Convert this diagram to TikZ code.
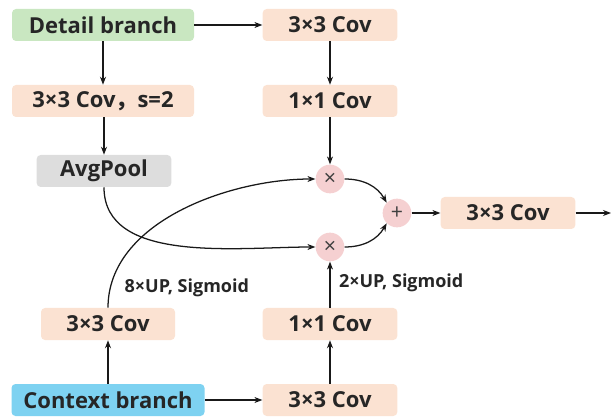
\documentclass[tikz,border=0pt]{standalone}
\usepackage{fontspec}
\setmainfont{Open Sans}
\newfontfamily\cjkfont{Noto Sans CJK SC}
\usetikzlibrary{arrows.meta}
\definecolor{detailgreen}{HTML}{C9E7C1}
\definecolor{convpeach}{HTML}{FBE2D2}
\definecolor{poolgray}{HTML}{DDDDDD}
\definecolor{ctxblue}{HTML}{7ED2F1}
\definecolor{oppink}{HTML}{F5D0D1}
\tikzset{
  blk/.style={rounded corners=3pt, inner sep=0pt, minimum height=24pt,
    font=\fontsize{16.5}{18}\selectfont\bfseries, text=black!85},
  conv/.style={blk, fill=convpeach, minimum width=101pt},
  op/.style={circle, fill=oppink, minimum size=21.5pt, inner sep=0pt,
    font=\fontsize{16}{16}\selectfont, text=black!75},
  arr/.style={-{Stealth[length=6pt,width=4.5pt]}, line width=0.95pt, black!90},
  lbl/.style={font=\fontsize{13.5}{15}\selectfont\bfseries, text=black!85, anchor=west}
}
\begin{document}
\begin{tikzpicture}[x=0.75pt, y=-0.75pt]
  \useasboundingbox (0,0) rectangle (611,417);
  % detail path
  \node[blk, fill=detailgreen, minimum width=136.5pt] (detail) at (103,25) {Detail branch};
  \node[conv] (dconvA) at (330,25) {3×3 Cov};
  \node[conv] (dconvB) at (330,101) {1×1 Cov};
  \node[conv, minimum width=136.5pt] (down) at (103,101) {3×3 Cov{\cjkfont\bfseries ，}s=2};
  \node[blk, fill=poolgray, minimum width=101pt] (pool) at (104,171) {AvgPool};
  % fusion
  \node[op] (mulA) at (330,179) {×};
  \node[op] (mulB) at (330,247) {×};
  \node[op] (add) at (397,213) {+};
  \node[conv] (out) at (508,213) {3×3 Cov};
  \coordinate (end) at (611,213);
  % context path
  \node[conv, minimum width=100.5pt] (cconvL) at (108,324) {3×3 Cov};
  \node[conv] (cconvB) at (330,324) {1×1 Cov};
  \node[blk, fill=ctxblue, minimum width=144.75pt] (context) at (108,400) {Context branch};
  \node[conv] (cconvA) at (330,400) {3×3 Cov};
  % connectors
  \draw[arr] (detail) -- (dconvA);
  \draw[arr] (detail) -- (down);
  \draw[arr] (down.south -| pool) -- (pool);
  \draw[arr] (dconvA) -- (dconvB);
  \draw[arr] (dconvB) -- (mulA);
  \draw[arr] (mulA.east) to[out=0, in=120] (add.north west);
  \draw[arr] (mulB.east) to[out=0, in=-120] (add.south west);
  \draw[arr] (add) -- (out);
  \draw[arr] (out) -- (end);
  \draw[arr] (context) -- (cconvA);
  \draw[arr] (context) -- (cconvL);
  \draw[arr] (cconvA) -- (cconvB);
  \draw[arr] (cconvB) -- node[lbl, pos=0.55, xshift=3pt] {2×UP, Sigmoid} (mulB);
  \draw[arr] (cconvL.north) to[out=90, in=180, looseness=0.9] node[lbl, pos=0.08, xshift=7pt] {8×UP, Sigmoid} (mulA.west);
  \draw[arr] (pool.south) to[out=-90, in=180, looseness=0.9] (mulB.west);
\end{tikzpicture}
\end{document}
